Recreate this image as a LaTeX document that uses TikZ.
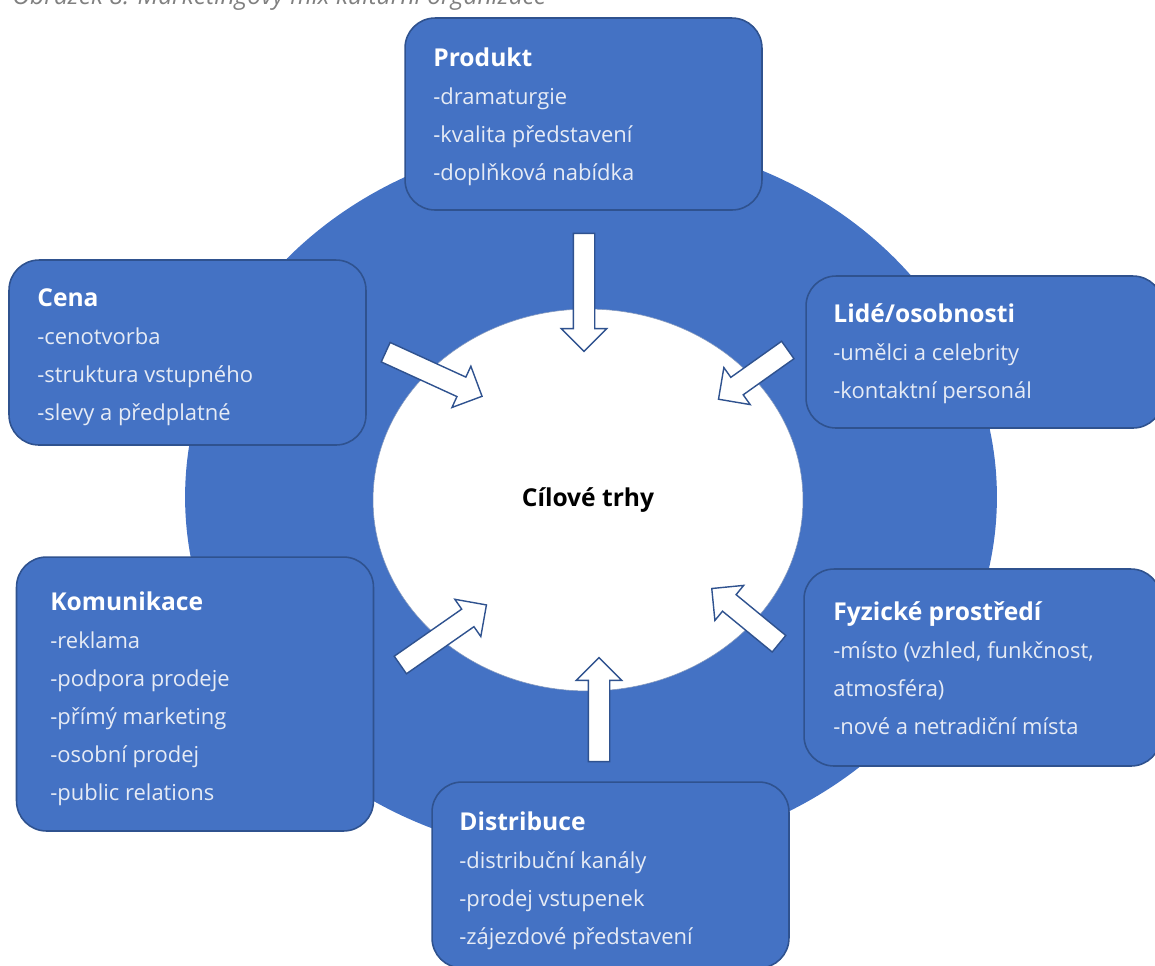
\documentclass[tikz,border=0pt]{standalone}
\usepackage{fontspec}
\setmainfont{Open Sans}
\usepackage{xcolor}
\usetikzlibrary{shapes.geometric,shapes.arrows}

\definecolor{mixblue}{HTML}{4472C4}
\definecolor{mixedge}{HTML}{2F528F}
\definecolor{itemtext}{HTML}{E6EBF5}
\definecolor{capgray}{HTML}{808080}

\newcommand{\boxhead}[1]{\textcolor{white}{\fontsize{14}{21.6}\selectfont\bfseries #1}}

\begin{document}
\begin{tikzpicture}[
    x=0.02cm, y=-0.02cm,
    font=\fontsize{12.5}{21.6}\selectfont,
    mixbox/.style={draw=mixedge, fill=mixblue, line width=0.9pt, rounded corners=0.6cm,
                   minimum width=7.14cm, inner sep=0pt},
    % anchored at the baseline of the last line
    mixtext/.style={anchor=base west, align=left, text=itemtext, inner sep=0pt},
    inarrow/.style={single arrow, draw=mixedge, fill=white, line width=0.8pt,
                    inner xsep=0pt, inner ysep=0.2cm, single arrow head extend=0.24cm,
                    single arrow tip angle=90},
  ]
    \useasboundingbox (0,0) rectangle (1155,965);

    % --- caption (cut at the top edge) ------------------------------------
    \node[anchor=base west, inner sep=0pt, text=capgray,
          font=\fontsize{14}{16}\selectfont\itshape] (cap) at (12,4)
      {Obrázek 8: Marketingový mix kulturní organizace};

    % --- ring and target markets ------------------------------------------
    \node[ellipse, fill=mixblue, minimum width=16.24cm, minimum height=14.4cm,
          inner sep=0pt] (ring) at (591,497) {};
    \node[ellipse, fill=white, draw=mixedge!60, line width=0.3pt,
          minimum width=8.6cm, minimum height=7.64cm, inner sep=0pt,
          font=\fontsize{14}{16}\selectfont\bfseries] (target) at (588,500) {Cílové trhy};

    % --- arrows into the centre -------------------------------------------
    \node[inarrow, minimum height=2.36cm, rotate=-90]   (aprod) at (584,287) {};
    \node[inarrow, minimum height=2.12cm, rotate=-24.6] (acena) at (429,372) {};
    \node[inarrow, minimum height=1.70cm, rotate=215.4] (alide) at (757.5,371.5) {};
    \node[inarrow, minimum height=2.10cm, rotate=34.9]  (akom)  at (439,638) {};
    \node[inarrow, minimum height=1.74cm, rotate=140.6] (afyz)  at (749.5,619.5) {};
    \node[inarrow, minimum height=2.08cm, rotate=90]    (adist) at (599,715) {};

    % --- the six boxes ----------------------------------------------------
    \node[mixbox, minimum height=3.84cm] (prod) at (583.5,114) {};
    \node[mixbox, minimum height=3.70cm] (cena) at (187.5,352.5) {};
    \node[mixbox, minimum height=3.04cm] (lide) at (984.5,352) {};
    \node[mixbox, minimum height=5.48cm] (kom)  at (195,694) {};
    \node[mixbox, minimum height=3.94cm] (fyz)  at (982.5,667.5) {};
    \node[mixbox, minimum height=3.72cm] (dist) at (610.5,875) {};

    \node[mixtext] (prodtxt) at (433,180)
      {\boxhead{Produkt}\\-dramaturgie\\-kvalita představení\\-doplňková nabídka};
    \node[mixtext] (cenatxt) at (37,420)
      {\boxhead{Cena}\\-cenotvorba\\-struktura vstupného\\-slevy a předplatné};
    \node[mixtext] (lidetxt) at (833,398)
      {\boxhead{Lidé/osobnosti}\\-umělci a celebrity\\-kontaktní personál};
    \node[mixtext] (komtxt) at (50,800)
      {\boxhead{Komunikace}\\-reklama\\-podpora prodeje\\-přímý marketing\\-osobní prodej\\-public relations};
    \node[mixtext] (fyztxt) at (833,734)
      {\boxhead{Fyzické prostředí}\\-místo (vzhled, funkčnost,\\atmosféra)\\-nové a netradiční místa};
    \node[mixtext] (disttxt) at (459,944)
      {\boxhead{Distribuce}\\-distribuční kanály\\-prodej vstupenek\\-zájezdové představení};
\end{tikzpicture}
\end{document}
